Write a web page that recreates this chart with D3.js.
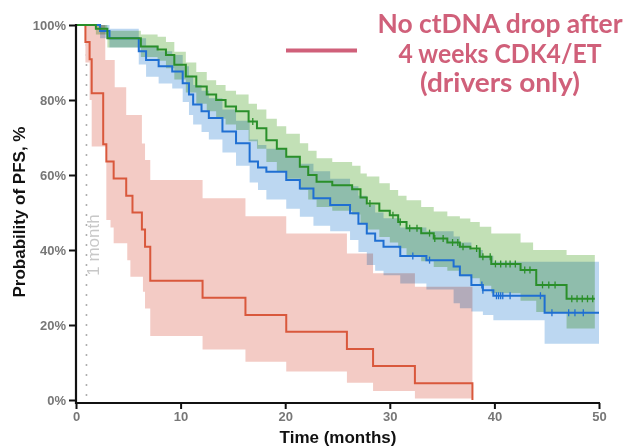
<!DOCTYPE html>
<html>
<head>
<meta charset="utf-8">
<script src="https://d3js.org/d3.v7.min.js"></script>
<style>
	body { margin: 0; background: #fff; }
	.tick text { font: bold 13px "Liberation Sans", Arial, sans-serif; fill: #777; }
	.tick line { stroke: #111; stroke-width: 2px; }
	.band { mix-blend-mode: multiply; stroke: none; }
	.km { fill: none; stroke-width: 2px; }
</style>
</head>
<body>
<svg width="629" height="447"></svg>
<script>
// rows: [month, survival %, lower CI %, upper CI %]
var redSteps = [
	[0, 100, 100, 100], [0.9, 95.5, 90, 100], [1.3, 90.9, 80, 100], [1.5, 81.8, 67.6, 100],
	[2.6, 68.2, 67.6, 100], [2.8, 68.2, 67.6, 90.7], [2.9, 63.6, 48, 90.7], [3.3, 63.6, 46, 90.7],
	[3.6, 59.1, 41.8, 90.7], [3.7, 59.1, 41.8, 83.4], [4.8, 54.5, 41.8, 76], [4.9, 54.5, 37.3, 76],
	[5.2, 54.5, 32.9, 76], [5.4, 50, 32.9, 76], [6.3, 45.5, 32.9, 68.4], [6.4, 45.5, 28.9, 68.4],
	[6.6, 40.9, 24.4, 64], [7.1, 31.8, 17.1, 58.7], [12.1, 27.3, 13.5, 53.8], [16.2, 22.7, 10.2, 49],
	[20.1, 18.2, 7.6, 44.4], [25.9, 13.6, 4.6, 39.1], [28.4, 9.1, 2.4, 33.8], [32.4, 4.5, 0.4, 30.2],
	[37.9, 0, 0.4, 30.2]
];
var greenSteps = [
	[0, 100, 100, 100], [1.9, 99, 97.5, 100], [3.0, 96.5, 94, 98.5], [6.2, 94.3, 91.5, 97.5],
	[7.8, 93.5, 90.5, 96.9], [8.6, 92, 88.5, 95.5], [9.4, 89.4, 85.5, 92.9], [10.5, 86.3, 82, 90],
	[11.5, 83.6, 79, 87.5], [12.5, 81.5, 77, 85.3], [13.4, 80, 75, 84], [14.3, 78.3, 73.5, 82.5],
	[15.3, 77, 72, 81.5], [16.5, 74.3, 69, 79], [17.3, 72.5, 67, 77.5], [18.2, 69.3, 63.5, 75],
	[19.2, 67, 61, 73], [20.1, 64.9, 59, 71], [21.4, 62.2, 56, 68.5], [22.2, 60, 53.5, 66.5],
	[23, 58.2, 51.5, 64.5], [24.5, 57.3, 50.5, 63.5], [26.4, 56.2, 49.5, 62.5], [27.2, 54, 47, 60.4],
	[27.8, 52.4, 45.5, 59.6], [29, 50.5, 43.5, 57.8], [30, 49.3, 42, 56], [30.8, 47.5, 40.5, 54.5],
	[31.6, 45.8, 38.5, 53.3], [33, 44.5, 37, 51.5], [34.2, 43.1, 35.5, 50.3], [35.5, 42, 34.5, 49],
	[36.7, 40.9, 33, 48.4], [37.7, 40.4, 32.5, 47.5], [38.6, 38.2, 30.5, 46.2], [39.7, 36.3, 28.5, 44.4],
	[42.5, 34.7, 26.5, 42], [43.7, 34.7, 26.5, 40], [44, 30.7, 23.5, 40], [46.9, 27, 19.1, 38.7],
	[49.6, 27, 19.1, 38.7]
];
var blueSteps = [
	[0, 100, 100, 100], [2.3, 98.4, 96.5, 100], [3.2, 96.5, 94, 99], [6.0, 93, 89.5, 96.5],
	[6.7, 90.7, 86.2, 94.5], [7.9, 89, 84.4, 93], [9.2, 87.6, 83.1, 92], [10.2, 84.5, 79.5, 89],
	[10.8, 81.5, 76, 86.5], [11.2, 78.8, 73.5, 84], [12.0, 77, 71.5, 82.5], [12.7, 75.2, 69.5, 80.5],
	[14, 71.6, 66, 77.5], [15.3, 68.5, 62.5, 74.5], [16.6, 63.6, 58, 69.5], [17.4, 62, 56, 68],
	[18.2, 60.9, 53.5, 67], [20.1, 58.7, 51, 65], [21.4, 56.4, 48.9, 63], [22.7, 53.8, 46.5, 61],
	[24.3, 52, 45, 59], [26.2, 49.8, 42.7, 57], [27, 47, 39.5, 54.5], [27.8, 44.4, 36, 52],
	[28.6, 42.5, 34.5, 50], [29.4, 40.9, 33.3, 48.5], [31, 38.4, 31.1, 46], [33.5, 37.3, 29.5, 45],
	[36.1, 35.6, 25.8, 43.6], [36.7, 33.3, 24.5, 42], [37.8, 30.7, 23.6, 40], [38.9, 29.3, 22.7, 38.5],
	[39.9, 27.8, 21.3, 36.9], [44.8, 23.3, 15, 36.9], [50, 23.3, 15, 36.9]
];
var greenCensored = [16.9, 28.1, 30.3, 31, 31.9, 32.6, 33.8, 34.3, 35.1, 36, 36.5, 37, 38.3, 38.9,
	39.6, 40.1, 40.6, 41.1, 41.5, 42, 42.9, 43.4, 44.6, 45.2, 45.8, 47.4, 47.9, 48.4, 48.9, 49.4];
var blueCensored = [32.2, 33.8, 38.8, 38.9, 40.2, 40.4, 40.6, 40.8, 41.5, 44.4, 45.5, 47.1, 47.7, 48.5];

var xTicks = [0, 10, 20, 30, 40, 50];
var yTicks = [0, 20, 40, 60, 80, 100];
var legendLines = ["No ctDNA drop after", "4 weeks CDK4/ET", "(drivers only)"];

var svg = d3.select("svg");
var x = d3.scaleLinear().domain([0, 50]).range([76, 599]);
var y = d3.scaleLinear().domain([0, 100]).range([400, 25]);

var series = [
	{ rows: redSteps, band: "#f3cbc5", line: "#d9583c", cens: [] },
	{ rows: greenSteps, band: "#c2e0b6", line: "#2a8f2a", cens: greenCensored },
	{ rows: blueSteps, band: "#bcd7f1", line: "#1f6fd2", cens: blueCensored }
];

var area = d3.area().curve(d3.curveStepAfter)
	.x(function(d) { return x(d[0]); })
	.y0(function(d) { return y(d[2]); })
	.y1(function(d) { return y(d[3]); });
var line = d3.line().curve(d3.curveStepAfter)
	.x(function(d) { return x(d[0]); })
	.y(function(d) { return y(d[1]); });

function survAt(rows, t) {
	var s = rows[0][1];
	rows.forEach(function(r) { if (r[0] <= t) s = r[1]; });
	return s;
}

// dotted 1-month reference
svg.append("line")
	.attr("x1", x(1)).attr("x2", x(1))
	.attr("y1", y(100)).attr("y2", y(0))
	.attr("stroke", "#aaa").attr("stroke-width", 2)
	.attr("stroke-linecap", "round")
	.attr("stroke-dasharray", "0,10");

svg.append("text")
	.attr("transform", "translate(" + (x(1) + 13) + "," + 245 + ") rotate(-90)")
	.attr("text-anchor", "middle")
	.style("font", "17px 'Liberation Sans', Arial, sans-serif")
	.style("fill", "#c8c8c8")
	.text("1 month");

var bands = svg.append("g").style("isolation", "isolate");
series.forEach(function(s) {
	bands.append("path").attr("class", "band").attr("fill", s.band).attr("d", area(s.rows));
});

[series[0], series[2], series[1]].forEach(function(s) {
	svg.append("path").attr("class", "km").attr("stroke", s.line).attr("d", line(s.rows));
	svg.append("g").selectAll("line")
		.data(s.cens)
		.enter().append("line")
		.attr("x1", function(t) { return x(t); })
		.attr("x2", function(t) { return x(t); })
		.attr("y1", function(t) { return y(survAt(s.rows, t)) - 3.5; })
		.attr("y2", function(t) { return y(survAt(s.rows, t)) + 3.5; })
		.attr("stroke", s.line).attr("stroke-width", 1.3);
});

// axes
var yAxis = svg.append("g").attr("transform", "translate(76,0)")
	.call(d3.axisLeft(y).tickValues(yTicks).tickSize(7).tickPadding(3)
		.tickFormat(function(d) { return d + "%"; }));
yAxis.select(".domain").remove();
var xAxis = svg.append("g").attr("transform", "translate(0,403)")
	.call(d3.axisBottom(x).tickValues(xTicks).tickSize(6).tickPadding(3));
xAxis.select(".domain").remove();

svg.append("line").attr("x1", 76).attr("x2", 76).attr("y1", 24).attr("y2", 404)
	.attr("stroke", "#111").attr("stroke-width", 2.2);
svg.append("line").attr("x1", 75).attr("x2", 600).attr("y1", 403).attr("y2", 403)
	.attr("stroke", "#111").attr("stroke-width", 2.2);

svg.append("text")
	.attr("x", 338).attr("y", 443)
	.attr("text-anchor", "middle")
	.style("font", "bold 17px 'Liberation Sans', Arial, sans-serif")
	.style("fill", "#111")
	.text("Time (months)");

svg.append("text")
	.attr("transform", "translate(25,212) rotate(-90)")
	.attr("text-anchor", "middle")
	.style("font", "bold 17px 'Liberation Sans', Arial, sans-serif")
	.style("fill", "#111")
	.text("Probability of PFS, %");

// legend
svg.append("line").attr("x1", 286).attr("x2", 357).attr("y1", 50.5).attr("y2", 50.5)
	.attr("stroke", "#d0607a").attr("stroke-width", 4);
var widths = [245, 203, 160];
var baselines = [33, 62.5, 91.5];
svg.append("g").selectAll("text")
	.data(legendLines)
	.enter().append("text")
	.attr("x", 500)
	.attr("y", function(d, i) { return baselines[i]; })
	.attr("text-anchor", "middle")
	.attr("textLength", function(d, i) { return widths[i]; })
	.attr("lengthAdjust", "spacingAndGlyphs")
	.style("font", "bold 26px Lato, 'Open Sans', sans-serif")
	.style("fill", "#d0607a")
	.text(function(d) { return d; });
</script>
</body>
</html>
